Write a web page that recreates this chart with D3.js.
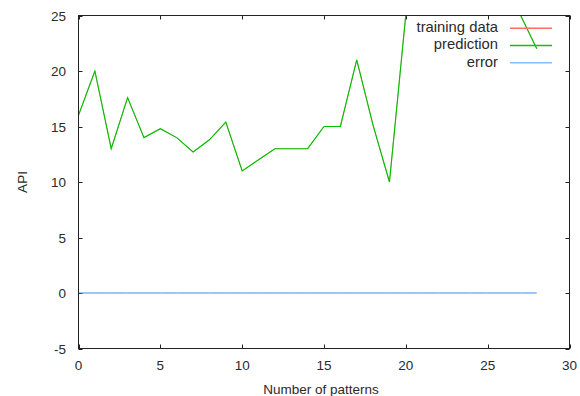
<!DOCTYPE html>
<html><head><meta charset="utf-8">
<script src="https://cdn.jsdelivr.net/npm/d3@7"></script>
<style>body{margin:0;background:#fff}svg{display:block}text{font-family:"Liberation Sans",Arial,sans-serif;fill:#2a2a2a}</style>
</head><body>
<svg id="c" width="580" height="396"></svg>
<script>
const patterns = d3.range(0, 29);
const prediction = [16, 20, 13, 17.6, 14, 14.8, 14, 12.7, 13.8, 15.4, 11, 12, 13, 13, 13, 15, 15, 21, 15.1, 10, 25.1, 29, 31, 30, 32, 30, 28, 25.05, 22];
const training = prediction.slice();
const error = patterns.map(() => 0);
const xTicks = [0, 5, 10, 15, 20, 25, 30];
const yTicks = [-5, 0, 5, 10, 15, 20, 25];
const seriesNames = ["training data", "prediction", "error"];
const colors = ["#ff4a4a", "#00c000", "#3090f0"];
const legendColors = ["#ff6a6a", "#10c010", "#88bbff"];

const svg = d3.select("#c");
const L = 78.5, R = 569.5, T = 15.5, B = 348.5;
const x = d3.scaleLinear().domain([0, 30]).range([L, R]);
const y = d3.scaleLinear().domain([-5, 25]).range([B, T]);

svg.append("defs").append("clipPath").attr("id", "clip")
  .append("rect").attr("x", L).attr("y", T).attr("width", R - L).attr("height", B - T);

const tl = 4;
const g = svg.append("g").attr("stroke", "#222").attr("stroke-width", 1);
xTicks.forEach(t => {
  const px = Math.round(x(t)) + 0.5;
  g.append("line").attr("x1", px).attr("x2", px).attr("y1", B).attr("y2", B - tl);
  g.append("line").attr("x1", px).attr("x2", px).attr("y1", T).attr("y2", T + tl);
});
yTicks.forEach(t => {
  const py = Math.round(y(t)) + 0.5;
  g.append("line").attr("y1", py).attr("y2", py).attr("x1", L).attr("x2", L + tl);
  g.append("line").attr("y1", py).attr("y2", py).attr("x1", R).attr("x2", R - tl);
});

// labels
svg.append("g").selectAll("text").data(xTicks).join("text")
  .attr("x", d => x(d)).attr("y", 370).attr("text-anchor", "middle").attr("font-size", 13.5).text(d => d);
svg.append("g").selectAll("text").data(yTicks).join("text")
  .attr("x", 66).attr("y", d => y(d) + 5).attr("text-anchor", "end").attr("font-size", 13.5).text(d => d);
svg.append("text").attr("x", (L + R) / 2 - 3).attr("y", 394).attr("text-anchor", "middle").attr("font-size", 13.5).text("Number of patterns");
svg.append("text").attr("transform", "translate(27," + ((T + B) / 2) + ") rotate(-90)").attr("text-anchor", "middle").attr("font-size", 13.5).text("API");

// lines
const line = d3.line().x((d, i) => x(patterns[i])).y(d => y(d));
const plot = svg.append("g").attr("clip-path", "url(#clip)");
const widths = [0.5, 1.15, 1];
[training, prediction, error].forEach((s, k) => {
  plot.append("path").datum(s).attr("d", line).attr("fill", "none").attr("stroke", colors[k]).attr("stroke-width", widths[k]);
});

svg.append("rect").attr("x", L).attr("y", T).attr("width", R - L).attr("height", B - T)
  .attr("fill", "none").attr("stroke", "#222").attr("stroke-width", 1);

// legend
seriesNames.forEach((n, k) => {
  const ly = 28.3 + k * 17.2;
  svg.append("text").attr("x", 498).attr("y", ly + 3.8).attr("text-anchor", "end").attr("font-size", 14.8).text(n);
  svg.append("line").attr("x1", 510).attr("x2", 552).attr("y1", ly).attr("y2", ly)
    .attr("stroke", legendColors[k]).attr("stroke-width", 1.5);
});
</script>
</body></html>
